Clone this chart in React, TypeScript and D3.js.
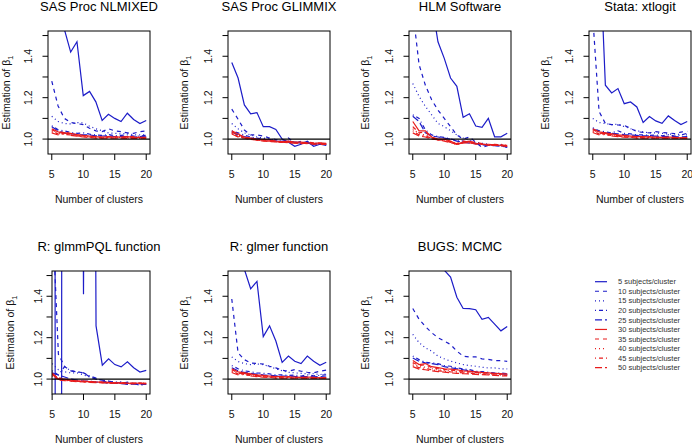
import React from "react";
import * as d3 from "d3";

const clusters = [5, 6, 7, 8, 9, 10, 11, 12, 13, 14, 15, 16, 17, 18, 19, 20];
const panelTitles = ["SAS Proc NLMIXED", "SAS Proc GLIMMIX", "HLM Software", "Stata: xtlogit", "R: glmmPQL function", "R: glmer function", "BUGS: MCMC"];
const seriesLabels = ["5 subjects/cluster", "10 subjects/cluster", "15 subjects/cluster", "20 subjects/cluster", "25 subjects/cluster", "30 subjects/cluster", "35 subjects/cluster", "40 subjects/cluster", "45 subjects/cluster", "50 subjects/cluster"];
const xTicks = [5, 10, 15, 20];
const yTicks = [1.0, 1.1, 1.2, 1.3, 1.4, 1.5];
const yTickLabels = ["1.0", "", "1.2", "", "1.4", ""];

const nlmixed = [
  [2.2, 1.85, 1.53, 1.42, 1.47, 1.21, 1.23, 1.18, 1.09, 1.12, 1.1, 1.085, 1.125, 1.095, 1.075, 1.09],
  [1.28, 1.16, 1.1, 1.08, 1.075, 1.07, 1.052, 1.04, 1.036, 1.05, 1.04, 1.036, 1.03, 1.028, 1.036, 1.04],
  [1.11, 1.085, 1.075, 1.073, 1.08, 1.078, 1.062, 1.05, 1.04, 1.03, 1.028, 1.025, 1.028, 1.02, 1.02, 1.022],
  [1.065, 1.045, 1.04, 1.032, 1.028, 1.03, 1.024, 1.02, 1.018, 1.022, 1.016, 1.018, 1.02, 1.015, 1.014, 1.018],
  [1.06, 1.04, 1.03, 1.026, 1.022, 1.02, 1.02, 1.016, 1.015, 1.016, 1.012, 1.013, 1.012, 1.01, 1.012, 1.011],
  [1.05, 1.035, 1.03, 1.028, 1.022, 1.018, 1.015, 1.012, 1.01, 1.012, 1.01, 1.01, 1.012, 1.008, 1.009, 1.008],
  [1.045, 1.03, 1.035, 1.025, 1.02, 1.016, 1.012, 1.01, 1.008, 1.01, 1.012, 1.008, 1.01, 1.012, 1.008, 1.007],
  [1.04, 1.028, 1.025, 1.022, 1.02, 1.015, 1.012, 1.008, 1.006, 1.008, 1.006, 1.01, 1.008, 1.006, 1.005, 1.006],
  [1.035, 1.025, 1.022, 1.02, 1.016, 1.012, 1.01, 1.006, 1.005, 1.007, 1.005, 1.006, 1.004, 1.006, 1.004, 1.005],
  [1.03, 1.02, 1.03, 1.018, 1.014, 1.01, 1.008, 1.005, 1.004, 1.005, 1.004, 1.005, 1.003, 1.004, 1.003, 1.004],
];

const glimmix = [
  [1.37, 1.295, 1.165, 1.122, 1.128, 1.06, 1.06, 1.047, 1.0, 0.985, 0.965, 0.975, 0.99, 0.965, 0.975, 0.97],
  [1.145, 1.096, 1.044, 1.02, 1.02, 1.015, 1.005, 0.998, 0.99, 0.99, 0.985, 0.98, 0.985, 0.975, 0.98, 0.975],
  [1.075, 1.05, 1.03, 1.02, 1.01, 1.005, 1.0, 0.995, 0.99, 0.99, 0.985, 0.985, 0.98, 0.98, 0.978, 0.975],
  [1.04, 1.03, 1.02, 1.01, 1.005, 1.0, 0.998, 0.995, 0.985, 1.005, 0.98, 0.99, 0.98, 0.975, 0.978, 0.972],
  [1.035, 1.02, 1.012, 1.005, 1.0, 0.998, 0.995, 0.99, 0.988, 0.99, 0.985, 0.98, 0.98, 0.978, 0.975, 0.975],
  [1.04, 1.025, 1.01, 1.005, 1.0, 0.998, 0.995, 0.99, 0.988, 0.99, 0.985, 0.985, 0.982, 0.98, 0.982, 0.98],
  [1.035, 1.02, 1.008, 1.002, 0.995, 0.995, 0.992, 0.988, 0.985, 0.985, 0.982, 0.98, 0.985, 0.982, 0.98, 0.978],
  [1.03, 1.015, 1.005, 1.0, 0.998, 0.994, 0.99, 0.99, 0.986, 0.984, 0.982, 0.982, 0.98, 0.978, 0.98, 0.976],
  [1.028, 1.012, 1.004, 1.0, 0.995, 0.992, 0.99, 0.987, 0.984, 0.985, 0.98, 0.978, 0.98, 0.977, 0.976, 0.978],
  [1.025, 1.01, 1.005, 0.998, 0.996, 0.99, 0.988, 0.986, 0.985, 0.982, 0.98, 0.98, 0.978, 0.976, 0.975, 0.974],
];

const hlm = [
  [2.6, 2.2, 1.9, 1.66, 1.47, 1.39, 1.295, 1.255, 1.105, 1.122, 1.063, 1.057, 1.1, 1.011, 1.011, 1.028],
  [1.62, 1.36, 1.26, 1.19, 1.14, 1.1, 1.06, 1.02, 1.0, 1.01, 0.985, 0.96, 0.97, 0.97, 0.972, 0.962],
  [1.268, 1.206, 1.158, 1.117, 1.076, 1.06, 1.04, 1.02, 1.005, 0.995, 0.985, 0.98, 0.975, 0.97, 0.97, 0.965],
  [1.117, 1.1, 1.045, 1.02, 1.012, 1.008, 1.0, 0.995, 0.99, 0.985, 0.98, 0.975, 0.972, 0.97, 0.968, 0.96],
  [1.11, 1.085, 1.03, 1.015, 1.01, 1.005, 1.0, 0.99, 0.985, 0.98, 0.978, 0.972, 0.97, 0.968, 0.965, 0.962],
  [1.085, 1.04, 1.04, 1.01, 1.0, 1.0, 0.99, 0.975, 0.985, 0.99, 0.98, 0.975, 0.975, 0.972, 0.97, 0.97],
  [1.06, 1.03, 1.035, 1.005, 1.0, 0.995, 0.985, 0.978, 0.99, 0.985, 0.985, 0.978, 0.97, 0.975, 0.972, 0.968],
  [1.05, 1.025, 1.02, 1.008, 0.998, 0.992, 0.988, 0.98, 0.982, 0.988, 0.98, 0.974, 0.972, 0.97, 0.975, 0.968],
  [1.04, 1.02, 1.015, 1.005, 0.995, 0.995, 0.985, 0.972, 0.985, 0.982, 0.978, 0.976, 0.973, 0.972, 0.97, 0.966],
  [1.03, 1.015, 1.01, 1.0, 0.997, 0.99, 0.982, 0.976, 0.98, 0.984, 0.975, 0.975, 0.971, 0.97, 0.968, 0.965],
];

const stata = [
  [2.5, 2.0, 1.26, 1.223, 1.244, 1.171, 1.179, 1.155, 1.08, 1.109, 1.088, 1.076, 1.112, 1.09, 1.07, 1.085],
  [1.59, 1.133, 1.076, 1.07, 1.068, 1.066, 1.052, 1.036, 1.032, 1.03, 1.036, 1.032, 1.03, 1.026, 1.034, 1.038],
  [1.1, 1.08, 1.075, 1.07, 1.072, 1.06, 1.05, 1.04, 1.035, 1.03, 1.03, 1.028, 1.024, 1.025, 1.022, 1.02],
  [1.055, 1.04, 1.035, 1.03, 1.04, 1.028, 1.025, 1.02, 1.02, 1.018, 1.02, 1.016, 1.022, 1.015, 1.02, 1.028],
  [1.05, 1.035, 1.03, 1.028, 1.025, 1.022, 1.02, 1.018, 1.016, 1.015, 1.014, 1.012, 1.013, 1.012, 1.011, 1.012],
  [1.05, 1.035, 1.03, 1.025, 1.02, 1.018, 1.015, 1.012, 1.012, 1.01, 1.01, 1.008, 1.01, 1.008, 1.006, 1.007],
  [1.045, 1.03, 1.025, 1.022, 1.018, 1.015, 1.012, 1.01, 1.008, 1.012, 1.008, 1.006, 1.008, 1.006, 1.005, 1.006],
  [1.04, 1.028, 1.022, 1.02, 1.016, 1.012, 1.012, 1.008, 1.006, 1.008, 1.006, 1.007, 1.006, 1.005, 1.004, 1.005],
  [1.036, 1.025, 1.02, 1.018, 1.014, 1.01, 1.01, 1.006, 1.005, 1.006, 1.005, 1.005, 1.004, 1.004, 1.004, 1.004],
  [1.032, 1.02, 1.028, 1.015, 1.012, 1.009, 1.008, 1.005, 1.004, 1.005, 1.004, 1.004, 1.003, 1.003, 1.003, 1.003],
];

const glmmPQL = [
  [30, -30, 30, 8, 8, 1.41, 8, 1.257, 1.067, 1.098, 1.07, 1.059, 1.083, 1.055, 1.034, 1.042],
  [1.83, 1.12, 1.06, 1.04, 1.035, 1.03, 1.01, 1.0, 0.995, 0.99, 0.985, 0.98, 0.985, 0.978, 0.98, 0.975],
  [1.075, 1.045, 1.035, 1.03, 1.03, 1.02, 1.01, 1.0, 0.995, 0.99, 0.985, 0.985, 0.98, 0.98, 0.978, 0.975],
  [1.04, 1.02, 1.06, 1.04, 1.035, 1.03, 1.015, 1.005, 0.99, 0.985, 0.98, 0.985, 0.975, 0.98, 0.97, 0.975],
  [1.03, 1.02, 1.01, 1.0, 0.995, 0.99, 0.99, 0.985, 0.985, 0.98, 0.98, 0.978, 0.976, 0.975, 0.975, 0.974],
  [1.03, 1.0, 1.0, 0.995, 0.99, 0.99, 0.988, 0.986, 0.985, 0.984, 0.982, 0.982, 0.98, 0.981, 0.98, 0.98],
  [1.025, 1.005, 0.998, 0.992, 0.99, 0.988, 0.99, 0.984, 0.986, 0.982, 0.98, 0.984, 0.98, 0.978, 0.982, 0.979],
  [1.02, 1.01, 0.995, 0.99, 0.988, 0.99, 0.986, 0.985, 0.982, 0.983, 0.984, 0.98, 0.981, 0.979, 0.98, 0.981],
  [1.015, 1.0, 0.996, 0.994, 0.99, 0.987, 0.985, 0.987, 0.983, 0.98, 0.982, 0.98, 0.979, 0.98, 0.978, 0.98],
  [1.025, 0.995, 0.993, 0.99, 0.988, 0.986, 0.984, 0.983, 0.982, 0.981, 0.98, 0.979, 0.978, 0.979, 0.978, 0.977],
];

const glmer = [
  [2.0, 1.75, 1.53, 1.436, 1.472, 1.205, 1.257, 1.184, 1.081, 1.111, 1.086, 1.075, 1.111, 1.086, 1.067, 1.081],
  [1.387, 1.127, 1.094, 1.078, 1.075, 1.073, 1.062, 1.054, 1.043, 1.038, 1.046, 1.038, 1.033, 1.03, 1.038, 1.043],
  [1.107, 1.085, 1.075, 1.07, 1.073, 1.07, 1.06, 1.05, 1.04, 1.033, 1.03, 1.028, 1.025, 1.026, 1.022, 1.025],
  [1.065, 1.05, 1.04, 1.035, 1.03, 1.028, 1.025, 1.02, 1.02, 1.018, 1.02, 1.015, 1.02, 1.016, 1.018, 1.02],
  [1.055, 1.04, 1.032, 1.028, 1.024, 1.02, 1.018, 1.016, 1.014, 1.015, 1.013, 1.012, 1.012, 1.011, 1.012, 1.01],
  [1.05, 1.035, 1.03, 1.025, 1.02, 1.018, 1.015, 1.012, 1.012, 1.01, 1.01, 1.008, 1.01, 1.008, 1.006, 1.007],
  [1.045, 1.03, 1.025, 1.022, 1.018, 1.015, 1.012, 1.01, 1.008, 1.012, 1.008, 1.006, 1.008, 1.006, 1.005, 1.006],
  [1.04, 1.028, 1.022, 1.02, 1.016, 1.012, 1.012, 1.008, 1.006, 1.008, 1.006, 1.007, 1.006, 1.005, 1.004, 1.005],
  [1.036, 1.025, 1.02, 1.018, 1.014, 1.01, 1.01, 1.006, 1.005, 1.006, 1.005, 1.005, 1.004, 1.004, 1.004, 1.004],
  [1.032, 1.02, 1.028, 1.015, 1.012, 1.009, 1.008, 1.005, 1.004, 1.005, 1.004, 1.004, 1.003, 1.003, 1.003, 1.003],
];

const bugs = [
  [2.3, 2.1, 1.9, 1.8, 1.62, 1.526, 1.493, 1.395, 1.341, 1.34, 1.335, 1.289, 1.298, 1.265, 1.233, 1.254],
  [1.341, 1.289, 1.254, 1.224, 1.2, 1.184, 1.167, 1.135, 1.111, 1.107, 1.107, 1.098, 1.095, 1.089, 1.089, 1.086],
  [1.216, 1.176, 1.151, 1.135, 1.111, 1.098, 1.087, 1.078, 1.07, 1.065, 1.062, 1.057, 1.054, 1.054, 1.05, 1.049],
  [1.111, 1.094, 1.081, 1.078, 1.075, 1.065, 1.062, 1.054, 1.049, 1.046, 1.038, 1.036, 1.033, 1.029, 1.029, 1.026],
  [1.102, 1.086, 1.078, 1.075, 1.07, 1.06, 1.055, 1.05, 1.045, 1.04, 1.035, 1.033, 1.03, 1.028, 1.025, 1.024],
  [1.09, 1.07, 1.075, 1.06, 1.055, 1.05, 1.048, 1.045, 1.04, 1.038, 1.035, 1.032, 1.03, 1.028, 1.026, 1.025],
  [1.08, 1.065, 1.07, 1.055, 1.05, 1.047, 1.043, 1.04, 1.037, 1.035, 1.032, 1.03, 1.028, 1.025, 1.024, 1.022],
  [1.075, 1.06, 1.058, 1.05, 1.045, 1.042, 1.04, 1.037, 1.034, 1.032, 1.03, 1.027, 1.025, 1.023, 1.022, 1.02],
  [1.068, 1.055, 1.052, 1.045, 1.04, 1.038, 1.035, 1.033, 1.03, 1.028, 1.027, 1.024, 1.022, 1.02, 1.019, 1.018],
  [1.06, 1.048, 1.045, 1.04, 1.036, 1.034, 1.03, 1.028, 1.026, 1.025, 1.023, 1.021, 1.02, 1.018, 1.016, 1.015],
];

const panelData = [nlmixed, glimmix, hlm, stata, glmmPQL, glmer, bugs];

// styles
const BLUE = "#1c1cc8";
const RED = "#e81c1c";
const seriesColors = [BLUE, BLUE, BLUE, BLUE, BLUE, RED, RED, RED, RED, RED];
const dashes = ["none", "4,4", "1,3", "1,3,4,3", "7,3"];
const FONT = "'Liberation Sans', Arial, Helvetica, sans-serif";

const W = 692;
const H = 443;
const colStep = 180.3;
const rowStep = 240;
const plotLeft0 = 48;
const plotW = 102;
const plotTop0 = 31;
const plotH = 122.5;

function Panel({ idx }: { idx: number }) {
  const col = idx % 4;
  const row = Math.floor(idx / 4);
  const special = idx === 4; // bottom-left panel has a narrower frame in the reference
  const baseLeft = Math.round(plotLeft0 + col * colStep);
  const left = special ? baseLeft + 4 : baseLeft;
  const right = baseLeft + plotW;
  const top = Math.round(plotTop0 + row * rowStep);
  const bottom = Math.round(top + plotH);
  const x = d3
    .scaleLinear()
    .domain(special ? [4.98, 20.6] : [4.4, 20.6])
    .range([left, right]);
  const y = d3.scaleLinear().domain([0.928, 1.522]).range([bottom, top]);
  const line = d3
    .line<number>()
    .x((_, i) => x(clusters[i]))
    .y((v) => y(v));
  const data = panelData[idx];
  const clipId = `clip${idx}`;
  const cx = (baseLeft + right) / 2;
  const cy = (top + bottom) / 2;
  const tickLabelX = special ? left - 14 : left - 20;
  const yLabX = col === 0 ? (special ? 10 : 6) : left - 44;
  return (
    <g>
      <defs>
        <clipPath id={clipId}>
          <rect x={left} y={top} width={right - left} height={bottom - top} />
        </clipPath>
      </defs>
      <g clipPath={`url(#${clipId})`}>
        {data.map((s, k) => (
          <path
            key={k}
            d={line(s) || ""}
            fill="none"
            stroke={seriesColors[k]}
            strokeWidth={1.2}
            strokeDasharray={dashes[k % 5]}
          />
        ))}
        <line x1={left} x2={right} y1={y(1)} y2={y(1)} stroke="#000" strokeWidth={1.1} />
      </g>
      <rect x={left} y={top} width={right - left} height={bottom - top} fill="none" stroke="#000" strokeWidth={1} />
      {yTicks.map((t, i) => (
        <g key={`y${i}`}>
          <line x1={left} x2={left - 5.5} y1={y(t)} y2={y(t)} stroke="#000" strokeWidth={1} />
          {yTickLabels[i] && (
            <text
              transform={`translate(${tickLabelX},${y(t)}) rotate(-90)`}
              textAnchor="middle"
              dy="0.35em"
              fontSize={10.5}
              fontFamily={FONT}
              fill="#111"
            >
              {yTickLabels[i]}
            </text>
          )}
        </g>
      ))}
      {xTicks.map((t) => (
        <g key={`x${t}`}>
          <line x1={x(t)} x2={x(t)} y1={bottom} y2={bottom + 6} stroke="#000" strokeWidth={1} />
          <text x={x(t)} y={bottom + 23.5} textAnchor="middle" fontSize={10.5} fontFamily={FONT} fill="#111">
            {t}
          </text>
        </g>
      ))}
      <text x={cx} y={bottom + 48.5} textAnchor="middle" fontSize={10.5} fontFamily={FONT} fill="#111">
        Number of clusters
      </text>
      <text
        transform={`translate(${yLabX},${cy}) rotate(-90)`}
        textAnchor="middle"
        dy="0.35em"
        fontSize={10.5}
        fontFamily={FONT}
        fill="#111"
      >
        Estimation of β
        <tspan fontSize={7.5} dy="3">1</tspan>
      </text>
      <text x={cx} y={top - 20} textAnchor="middle" fontSize={13} fontFamily={FONT} fill="#000">
        {panelTitles[idx]}
      </text>
    </g>
  );
}

function Legend() {
  const lx0 = 595;
  const lx1 = 607;
  const tx = 618;
  const y0 = 281.7;
  const dy = 9.55;
  return (
    <g>
      {seriesLabels.map((lab, k) => (
        <g key={k}>
          <line
            x1={lx0}
            x2={lx1}
            y1={y0 + k * dy}
            y2={y0 + k * dy}
            stroke={seriesColors[k]}
            strokeWidth={1.2}
            strokeDasharray={dashes[k % 5]}
          />
          <text x={tx} y={y0 + k * dy} dy="0.35em" fontSize={7.5} fontFamily={FONT} fill="#333">
            {lab}
          </text>
        </g>
      ))}
    </g>
  );
}

export default function App() {
  return (
    <svg
      width={W}
      height={H}
      viewBox={`0 0 ${W} ${H}`}
      style={{ position: "absolute", left: 0, top: 0, display: "block", background: "#fff" }}
    >
      <rect x={0} y={0} width={W} height={H} fill="#fff" />
      {panelTitles.map((_, i) => (
        <Panel key={i} idx={i} />
      ))}
      <Legend />
    </svg>
  );
}
